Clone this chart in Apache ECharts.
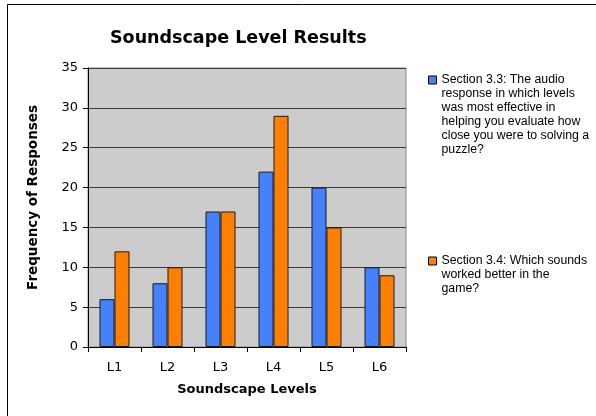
<!DOCTYPE html>
<html>
<head>
<meta charset="utf-8">
<script src="https://cdn.jsdelivr.net/npm/echarts@6/dist/echarts.min.js"></script>
<style>
  html, body { margin: 0; padding: 0; background: #fff; }
  #chart { width: 596px; height: 416px; }
</style>
</head>
<body>
<div id="chart"></div>
<script>
// data
var levels = ['L1', 'L2', 'L3', 'L4', 'L5', 'L6'];
var section33 = [6, 8, 17, 22, 20, 10];
var section34 = [12, 10, 17, 29, 15, 9];
var yTicks = [0, 5, 10, 15, 20, 25, 30, 35];

var name33 = 'Section 3.3: The audio response in which levels was most effective in helping you evaluate how close you were to solving a puzzle?';
var name34 = 'Section 3.4: Which sounds worked better in the game?';
// legend line breaks as in the picture
var lines33 = ['Section 3.3: The audio', 'response in which levels', 'was most effective in',
  'helping you evaluate how', 'close you were to solving a', 'puzzle?'];
var lines34 = ['Section 3.4: Which sounds', 'worked better in the', 'game?'];

var myChart = echarts.init(document.getElementById('chart'));

// legend text gets centred on the icon, so put blank lines above
// to bring the first line level with the icon
function legendFor(name, lines, top) {
  var blanks = [];
  for (var i = 1; i < lines.length; i++) blanks.push('');
  var txt = blanks.concat(lines).join('\n');
  return {
    data: [name],
    orient: 'vertical',
    left: 428,
    top: top,
    padding: 0,
    icon: 'rect',
    itemWidth: 8,
    itemHeight: 8,
    itemStyle: { borderColor: '#000', borderWidth: 1 },
    formatter: function () { return txt; },
    textStyle: {
      fontFamily: 'Liberation Sans',
      fontSize: 12.3,
      color: '#000',
      lineHeight: 14
    }
  };
}

var option = {
  animation: false,
  backgroundColor: '#fff',
  textStyle: { fontFamily: 'DejaVu Sans' },
  title: {
    text: 'Soundscape Level Results',
    left: 105,
    top: 24,
    textStyle: { fontFamily: 'DejaVu Sans', fontSize: 17.5, fontWeight: 'bold', color: '#000' }
  },
  graphic: [{
    type: 'rect',
    shape: { x: 7.5, y: 4.5, width: 700, height: 500 },
    style: { fill: 'none', stroke: '#000', lineWidth: 1 },
    silent: true
  }],
  legend: [
    legendFor(name33, lines33, 3),
    legendFor(name34, lines34, 226)
  ],
  grid: {
    left: 88, top: 68, width: 318, height: 279,
    show: true,
    backgroundColor: '#CCCCCC',
    borderColor: '#8c8c8c',
    borderWidth: 1
  },
  xAxis: {
    type: 'category',
    data: levels,
    name: 'Soundscape Levels',
    nameLocation: 'middle',
    nameGap: 36,
    nameTextStyle: { fontFamily: 'DejaVu Sans', fontSize: 13, fontWeight: 'bold', color: '#000' },
    axisLine: { lineStyle: { color: '#000', width: 1 } },
    axisTick: { show: true, length: 5, lineStyle: { color: '#000' } },
    axisLabel: { fontFamily: 'DejaVu Sans', fontSize: 13, color: '#000', margin: 14 }
  },
  yAxis: {
    type: 'value',
    min: yTicks[0],
    max: yTicks[yTicks.length - 1],
    interval: 5,
    name: 'Frequency of Responses',
    nameLocation: 'middle',
    nameRotate: 90,
    nameGap: 48,
    nameTextStyle: {
      fontFamily: 'DejaVu Sans', fontSize: 13.5, fontWeight: 'bold', color: '#000',
      padding: [0, 0, 0, 20]
    },
    axisLine: { show: true, lineStyle: { color: '#000', width: 1 } },
    axisTick: { show: true, length: 5, lineStyle: { color: '#000' } },
    axisLabel: { fontFamily: 'DejaVu Sans', fontSize: 13, color: '#000', margin: 10 },
    splitLine: { lineStyle: { color: '#3a3a3a', width: 1 } }
  },
  series: [
    {
      name: name33,
      type: 'bar',
      data: section33,
      barWidth: 15,
      barGap: '0%',
      itemStyle: { color: '#4580FF', borderColor: '#1a1a1a', borderWidth: 1 }
    },
    {
      name: name34,
      type: 'bar',
      data: section34,
      barWidth: 15,
      barGap: '0%',
      itemStyle: { color: '#FF8000', borderColor: '#1a1a1a', borderWidth: 1 }
    }
  ]
};

myChart.setOption(option);
</script>
</body>
</html>
